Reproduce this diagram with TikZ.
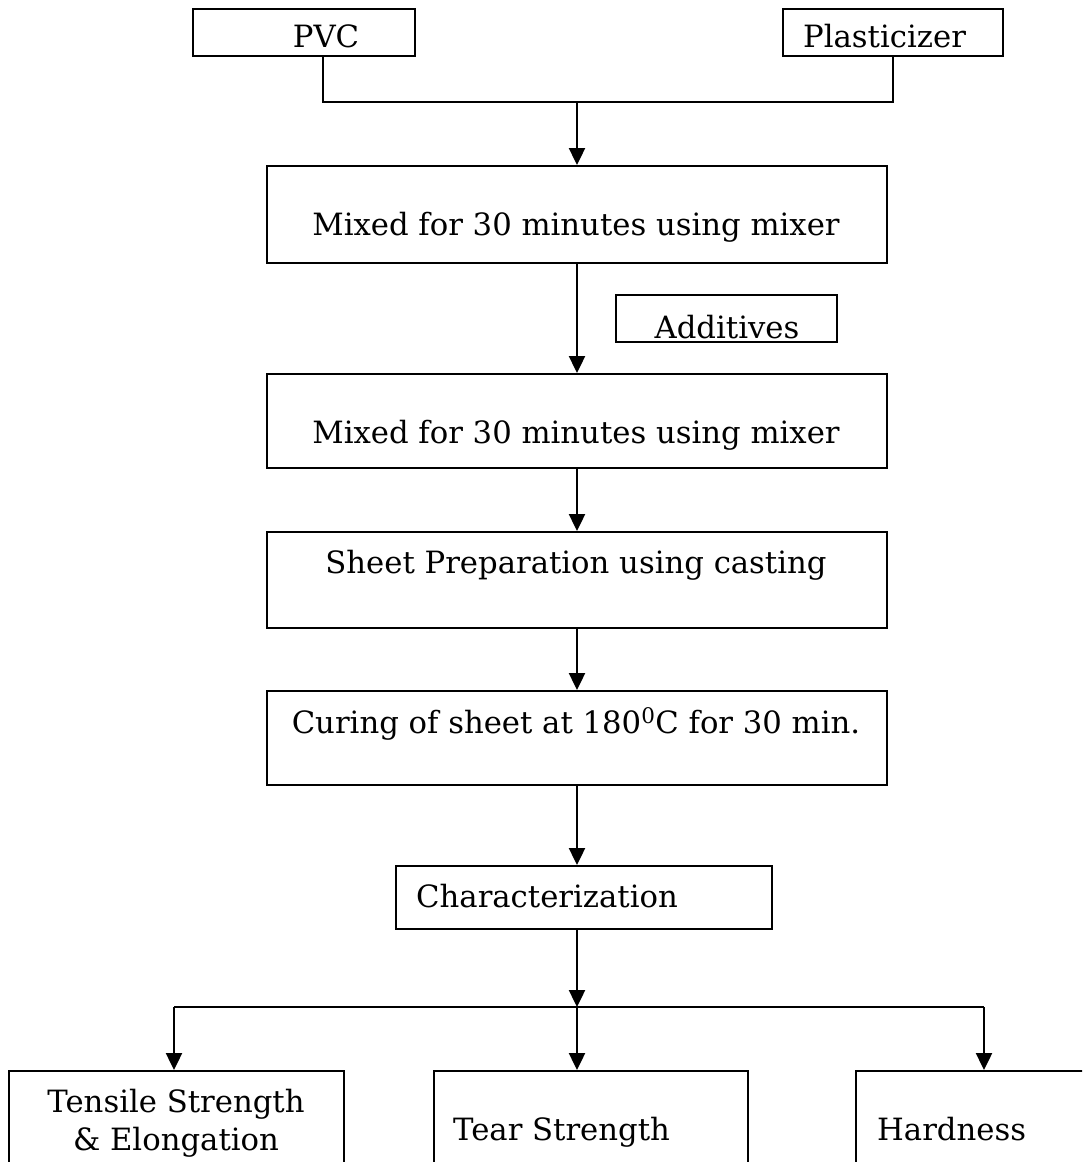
\documentclass[tikz,border=0pt]{standalone}
\usepackage{fontspec}
\setmainfont{DejaVu Serif}
\usetikzlibrary{arrows.meta}
\begin{document}
\begin{tikzpicture}[x=1pt,y=-1pt,
  box/.style={draw,line width=2.4pt,anchor=north west,inner sep=0pt,minimum width=#1},
  txt/.style={font=\fontsize{30.7}{36}\selectfont,inner sep=0pt},
  ln/.style={line width=2.4pt},
  arr/.style={line width=2.4pt,-{Triangle[width=16pt,length=17pt]}}]
\useasboundingbox (0,0) rectangle (1082,1162);
\begin{scope}
\clip (0,0) rectangle (1082,1162);
% raw materials
\node[box=222pt,minimum height=47pt] (pvc) at (192,8) {};
\node[txt,anchor=base] (pvct) at (326,47) {PVC};
\node[box=220pt,minimum height=47pt] (plast) at (782,8) {};
\node[txt,anchor=base west] (plastt) at (803,47) {Plasticizer};
% first mixing
\node[box=620pt,minimum height=97pt] (mix1) at (266,165) {};
\node[txt,anchor=base] (mix1t) at (576,235) {Mixed for 30 minutes using mixer};
% additives (text trimmed by its frame)
\node[box=221pt,minimum height=47pt] (add) at (615,294) {};
\begin{scope}
\clip (616,295) rectangle (836,338);
\node[txt,anchor=base] (addt) at (727,338) {Additives};
\end{scope}
% second mixing
\node[box=620pt,minimum height=94pt] (mix2) at (266,373) {};
\node[txt,anchor=base] (mix2t) at (576,443) {Mixed for 30 minutes using mixer};
% sheet preparation
\node[box=620pt,minimum height=96pt] (sheet) at (266,531) {};
\node[txt,anchor=base] (sheett) at (576,573) {Sheet Preparation using casting};
% curing
\node[box=620pt,minimum height=94pt] (cure) at (266,690) {};
\node[txt,anchor=base] (curet) at (576,733) {Curing of sheet at 180\textsuperscript{0}C for 30 min.};
% characterization
\node[box=376pt,minimum height=63pt] (char) at (395,865) {};
\node[txt,anchor=base west] (chart) at (416,907) {Characterization};
% tests
\node[box=335pt,minimum height=140pt] (b1) at (8,1070) {};
\node[txt,anchor=base] (b1a) at (176,1112) {Tensile Strength};
\node[txt,anchor=base] (b1b) at (176,1150) {\& Elongation};
\node[box=314pt,minimum height=140pt] (b2) at (433,1070) {};
\node[txt,anchor=base west] (b2t) at (453,1140) {Tear Strength};
\node[box=260pt,minimum height=140pt] (b3) at (855,1070) {};
\node[txt,anchor=base west] (b3t) at (877,1140) {Hardness};
% connectors
\coordinate (join) at (577,102);
\coordinate (split) at (577,1007);
\coordinate (t1) at (174,1007);
\coordinate (t3) at (984,1007);
\draw[ln] ([xshift=19pt]pvc.south) |- (plast.south |- join) -- (plast.south);
\draw[arr] (join) -- (join |- mix1.north);
\draw[arr] (join |- mix1.south) -- (join |- mix2.north);
\draw[arr] (join |- mix2.south) -- (join |- sheet.north);
\draw[arr] (join |- sheet.south) -- (join |- cure.north);
\draw[arr] (join |- cure.south) -- (join |- char.north);
\draw[arr] (join |- char.south) -- (split);
\draw[ln] (t1) -- (t3);
\draw[arr] (t1) -- (t1 |- b1.north);
\draw[arr] (split) -- (split |- b2.north);
\draw[arr] (t3) -- (t3 |- b3.north);
\end{scope}
\end{tikzpicture}
\end{document}
